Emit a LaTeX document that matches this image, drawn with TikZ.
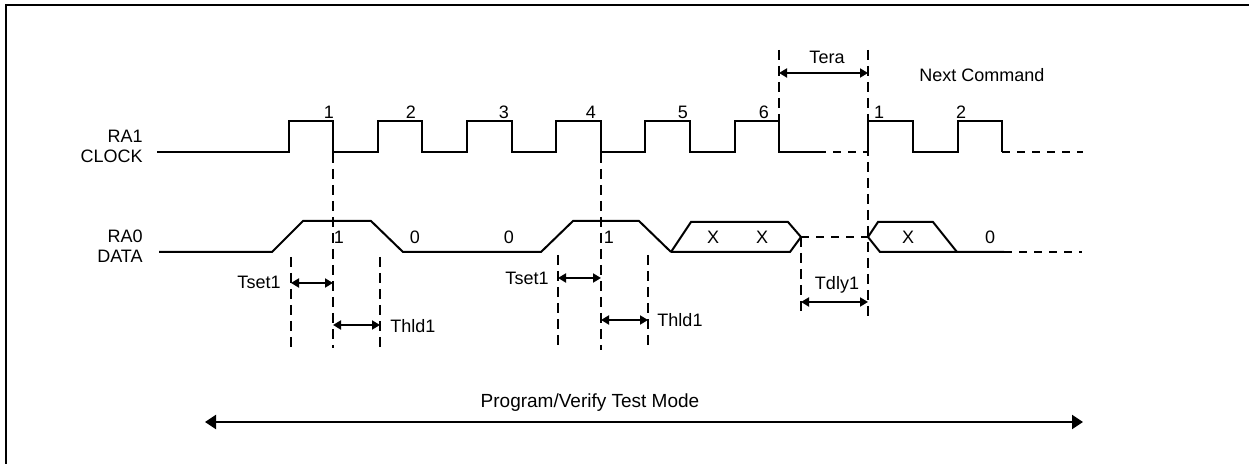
\documentclass[tikz,border=0pt]{standalone}
\usepackage{fontspec}
\setmainfont{Liberation Sans}
\usetikzlibrary{arrows.meta}
\begin{document}
\begin{tikzpicture}[x=0.5pt,y=-0.5pt, font=\fontsize{9}{9}\selectfont,
 sig/.style={line width=1pt, line join=miter},
 vdash/.style={line width=0.75pt, dash pattern=on 5pt off 3pt},
 hdash/.style={line width=0.9pt, dash pattern=on 4pt off 3.5pt},
 dim/.style={line width=0.9pt, {Triangle[length=4pt,width=4.5pt]}-{Triangle[length=4pt,width=4.5pt]}},
 bigdim/.style={line width=1pt, {Triangle[length=5.5pt,width=7pt]}-{Triangle[length=5.5pt,width=7pt]}},
 lbl/.style={inner sep=0pt}]
\useasboundingbox (0,0) rectangle (1249,464);
\draw[line width=1pt] (6,464) -- (6,5) -- (1249,5);

% signal names
\node[lbl, anchor=east, align=right] (ra1) at (143,146) {RA1\\[1pt]CLOCK};
\node[lbl, anchor=east, align=right] (ra0) at (143,246) {RA0\\[1pt]DATA};

% clock
\draw[sig] (157,152) -- (289,152) -- (289,121) -- (333,121) -- (333,152) -- (378,152) -- (378,121) -- (422,121) -- (422,152) -- (467,152) -- (467,121) -- (512,121) -- (512,152) -- (556,152) -- (556,121) -- (601,121) -- (601,152) -- (645,152) -- (645,121) -- (690,121) -- (690,152) -- (735,152) -- (735,121) -- (779,121) -- (779,152) -- (818,152);
\draw[hdash] (818,152) -- (868,152);
\draw[sig] (868,152) -- (868,121) -- (913,121) -- (913,152) -- (958,152) -- (958,121) -- (1002,121) -- (1002,152);
\draw[hdash] (1002,152) -- (1083,152);

% clock numbers
\node[lbl] (c1) at (329,112) {1};
\node[lbl] (c2) at (411,112) {2};
\node[lbl] (c3) at (504,112) {3};
\node[lbl] (c4) at (591,112) {4};
\node[lbl] (c5) at (683,112) {5};
\node[lbl] (c6) at (764,112) {6};
\node[lbl] (n1) at (879,112) {1};
\node[lbl] (n2) at (961,112) {2};

% data
\draw[sig] (159,252) -- (272,252) -- (303,221) -- (371,221) -- (403,252) -- (541,252) -- (573,221) -- (639,221) -- (671,252);
\draw[sig] (671,252) -- (691,222) -- (788,222) -- (801,237);
\draw[sig] (671,252) -- (790,252) -- (801,237);
\draw[hdash] (801,237) -- (868,237);
\draw[sig] (868,237) -- (878,222) -- (933,222) -- (957,252);
\draw[sig] (868,237) -- (880,252) -- (1004,252);
\draw[hdash] (1004,252) -- (1082,252);

% data values
\node[lbl] (d1) at (339,237) {1};
\node[lbl] (d2) at (415,237) {0};
\node[lbl] (d3) at (509,237) {0};
\node[lbl] (d4) at (609,237) {1};
\node[lbl] (d5) at (713,237) {X};
\node[lbl] (d6) at (762,237) {X};
\node[lbl] (d7) at (908,237) {X};
\node[lbl] (d8) at (990,237) {0};

% dashed guide lines
\coordinate (g1t) at (333,153); \coordinate (g1b) at (333,348);
\coordinate (g2t) at (291,257); \coordinate (g2b) at (291,348);
\coordinate (g3t) at (380,257); \coordinate (g3b) at (380,348);
\coordinate (g4t) at (601,153); \coordinate (g4b) at (601,350);
\coordinate (g5t) at (558,255); \coordinate (g5b) at (558,350);
\coordinate (g6t) at (648,255); \coordinate (g6b) at (648,350);
\coordinate (g7t) at (779,50);  \coordinate (g7b) at (779,121);
\coordinate (g8t) at (868,50);  \coordinate (g8b) at (868,317);
\coordinate (g9t) at (801,237); \coordinate (g9b) at (801,315);
\foreach \g in {1,...,9} \draw[vdash] (g\g t) -- (g\g b);

% timing dimensions
\coordinate (a1l) at (291,283); \coordinate (a1r) at (333,283);
\draw[dim] (a1l) -- (a1r);
\node[lbl] (tset1a) at (259,282) {Tset1};
\coordinate (a2l) at (333,325); \coordinate (a2r) at (380,325);
\draw[dim] (a2l) -- (a2r);
\node[lbl] (thld1a) at (413,326) {Thld1};
\coordinate (a3l) at (558,278); \coordinate (a3r) at (601,278);
\draw[dim] (a3l) -- (a3r);
\node[lbl] (tset1b) at (527,278) {Tset1};
\coordinate (a4l) at (601,320); \coordinate (a4r) at (648,320);
\draw[dim] (a4l) -- (a4r);
\node[lbl] (thld1b) at (680,320) {Thld1};
\coordinate (a5l) at (801,302); \coordinate (a5r) at (868,302);
\draw[dim] (a5l) -- (a5r);
\node[lbl] (tdly1) at (837,285) {Tdly1};
\coordinate (a6l) at (779,73); \coordinate (a6r) at (868,73);
\draw[dim] (a6l) -- (a6r);
\node[lbl] (tera) at (827,57) {Tera};
\node[lbl] (next) at (982,75) {Next Command};

% program/verify mode
\coordinate (pl) at (205,422); \coordinate (pr) at (1083,422);
\draw[bigdim] (pl) -- (pr);
\node[lbl, font=\fontsize{9.5}{9.5}\selectfont] (pv) at (590,403) {Program/Verify Test Mode};
\end{tikzpicture}
\end{document}
